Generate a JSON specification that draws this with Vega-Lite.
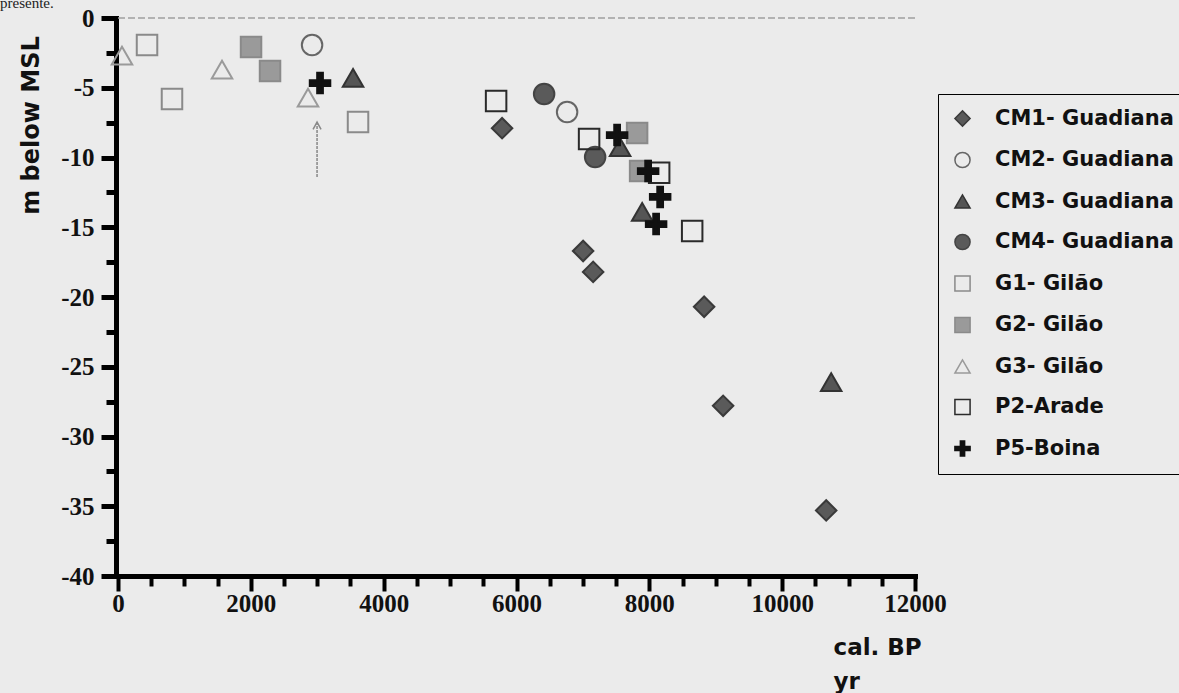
{
  "$schema": "https://vega.github.io/schema/vega-lite/v6.json",
  "autosize": "none",
  "width": 797,
  "height": 558,
  "padding": {"left": 118, "top": 18, "right": 264, "bottom": 117},
  "background": "#ebebeb",
  "title": {"text": "presente.", "anchor": "start", "frame": "group", "orient": "top", "dx": -118, "dy": 17, "offset": 0, "baseline": "alphabetic", "font": "Liberation Serif", "fontSize": 15, "fontWeight": "normal", "color": "#222"},
  "config": {
    "view": {"stroke": null},
    "axis": {"labelFont": "Liberation Serif", "labelFontSize": 25, "labelFontWeight": "bold", "labelColor": "#111"}
  },
  "datasets": {
    "pts": [
      {"series": "CM1- Guadiana", "x": 5783, "y": -7.9},
      {"series": "CM1- Guadiana", "x": 7003, "y": -16.7},
      {"series": "CM1- Guadiana", "x": 7154, "y": -18.2},
      {"series": "CM1- Guadiana", "x": 8825, "y": -20.7},
      {"series": "CM1- Guadiana", "x": 9111, "y": -27.8},
      {"series": "CM1- Guadiana", "x": 10663, "y": -35.3},
      {"series": "CM2- Guadiana", "x": 2922, "y": -1.94},
      {"series": "CM2- Guadiana", "x": 6762, "y": -6.74},
      {"series": "CM3- Guadiana", "x": 3539, "y": -4.3},
      {"series": "CM3- Guadiana", "x": 7560, "y": -9.25},
      {"series": "CM3- Guadiana", "x": 7892, "y": -13.9},
      {"series": "CM3- Guadiana", "x": 10738, "y": -26.1},
      {"series": "CM4- Guadiana", "x": 6416, "y": -5.45},
      {"series": "CM4- Guadiana", "x": 7184, "y": -9.96},
      {"series": "G1- Gilão", "x": 437, "y": -1.94},
      {"series": "G1- Gilão", "x": 813, "y": -5.8},
      {"series": "G1- Gilão", "x": 3614, "y": -7.46},
      {"series": "G2- Gilão", "x": 2003, "y": -2.08},
      {"series": "G2- Gilão", "x": 2289, "y": -3.8},
      {"series": "G2- Gilão", "x": 7816, "y": -8.24},
      {"series": "G2- Gilão", "x": 7861, "y": -10.97},
      {"series": "G3- Gilão", "x": 60, "y": -2.7},
      {"series": "G3- Gilão", "x": 1566, "y": -3.7},
      {"series": "G3- Gilão", "x": 2861, "y": -5.7},
      {"series": "P2-Arade", "x": 5693, "y": -5.95},
      {"series": "P2-Arade", "x": 7093, "y": -8.67},
      {"series": "P2-Arade", "x": 8148, "y": -11.1},
      {"series": "P2-Arade", "x": 8645, "y": -15.27},
      {"series": "P5-Boina", "x": 3042, "y": -4.66},
      {"series": "P5-Boina", "x": 7515, "y": -8.39},
      {"series": "P5-Boina", "x": 7982, "y": -10.97},
      {"series": "P5-Boina", "x": 8163, "y": -12.83},
      {"series": "P5-Boina", "x": 8102, "y": -14.77}
    ]
  },
  "layer": [
    {
      "data": {"values": [{"y": 0}]},
      "mark": {"type": "rule", "color": "#a0a0a0", "strokeWidth": 1.5, "strokeDash": [7, 3]},
      "encoding": {"y": {"field": "y", "type": "quantitative", "axis": null}}
    },
    {
      "data": {"values": [{"x": 2997, "y": -11.4, "y2": -7.5}]},
      "mark": {"type": "rule", "color": "#888888", "strokeWidth": 1.5, "strokeDash": [3, 1]},
      "encoding": {
        "x": {"field": "x", "type": "quantitative", "axis": null},
        "y": {"field": "y", "type": "quantitative", "axis": null},
        "y2": {"field": "y2"}
      }
    },
    {
      "data": {"values": [{"x": 2997, "y": -7.46}]},
      "mark": {"type": "point", "shape": "M-1,1.8L0,0L1,1.8", "size": 64, "filled": false, "stroke": "#888888", "strokeWidth": 1.5, "opacity": 1},
      "encoding": {
        "x": {"field": "x", "type": "quantitative", "axis": null},
        "y": {"field": "y", "type": "quantitative", "axis": null}
      }
    },
    {
      "data": {"name": "pts"},
      "mark": {"type": "point", "size": 420, "strokeWidth": 2, "opacity": 1},
      "encoding": {
        "x": {
          "field": "x", "type": "quantitative",
          "scale": {"domain": [0, 12000], "nice": false, "zero": false},
          "axis": {
            "orient": "bottom", "values": [0, 2000, 4000, 6000, 8000, 10000, 12000], "format": "d",
            "grid": false, "domainColor": "#000", "domainWidth": 5, "domainCap": "square",
            "tickColor": "#000", "tickWidth": 4, "tickSize": 15,
            "labelPadding": 0, "labelFlush": false, "labelOverlap": false,
            "title": ["cal. BP", "yr"], "titleFont": "DejaVu Sans", "titleFontSize": 23, "titleFontWeight": "bold", "titleColor": "#111",
            "titleAlign": "left", "titleBaseline": "alphabetic", "titleX": 715, "titleY": 78, "titleLineHeight": 34
          }
        },
        "y": {
          "field": "y", "type": "quantitative",
          "scale": {"domain": [-40, 0], "nice": false, "zero": false},
          "axis": {
            "orient": "left", "offset": 2, "values": [0, -5, -10, -15, -20, -25, -30, -35, -40],
            "labelExpr": "replace(datum.label, '\u2212', '-')",
            "grid": false, "domainColor": "#000", "domainWidth": 5, "domainCap": "square",
            "tickColor": "#000", "tickWidth": 5, "tickSize": 15,
            "labelPadding": 7, "labelFlush": false, "labelOverlap": false,
            "title": "m below MSL", "titleFont": "DejaVu Sans", "titleFontSize": 24, "titleFontWeight": "bold", "titleColor": "#111",
            "titleAngle": -90, "titleAlign": "center", "titleBaseline": "middle", "titleX": -85, "titleY": 107
          }
        },
        "shape": {
          "field": "series", "type": "nominal",
          "scale": {
            "domain": ["CM1- Guadiana", "CM2- Guadiana", "CM3- Guadiana", "CM4- Guadiana", "G1- Gilão", "G2- Gilão", "G3- Gilão", "P2-Arade", "P5-Boina"],
            "range": ["diamond", "circle", "triangle-up", "circle", "square", "square", "triangle-up", "square", "M-1,-0.28H-0.28V-1H0.28V-0.28H1V0.28H0.28V1H-0.28V0.28H-1Z"]
          },
          "legend": {
            "orient": "none", "legendX": 820, "legendY": 76, "title": null,
            "strokeColor": "#000", "padding": 14,
            "symbolSize": 230, "symbolStrokeWidth": 1.5, "rowPadding": 18.5, "labelOffset": 22,
            "labelFont": "DejaVu Sans", "labelFontSize": 21, "labelFontWeight": "bold", "labelColor": "#111", "labelLimit": 400
          }
        },
        "fill": {
          "field": "series", "type": "nominal",
          "scale": {
            "domain": ["CM1- Guadiana", "CM2- Guadiana", "CM3- Guadiana", "CM4- Guadiana", "G1- Gilão", "G2- Gilão", "G3- Gilão", "P2-Arade", "P5-Boina"],
            "range": ["#5a5a5a", "transparent", "#555555", "#5a5a5a", "transparent", "#9a9a9a", "transparent", "transparent", "#111111"]
          }
        },
        "stroke": {
          "field": "series", "type": "nominal",
          "scale": {
            "domain": ["CM1- Guadiana", "CM2- Guadiana", "CM3- Guadiana", "CM4- Guadiana", "G1- Gilão", "G2- Gilão", "G3- Gilão", "P2-Arade", "P5-Boina"],
            "range": ["#3a3a3a", "#666666", "#333333", "#444444", "#8a8a8a", "#8a8a8a", "#9a9a9a", "#2a2a2a", "#111111"]
          }
        }
      }
    },
    {
      "data": {"name": "pts"},
      "mark": {"type": "point", "opacity": 0},
      "encoding": {
        "x": {
          "field": "x", "type": "quantitative",
          "axis": {
            "orient": "bottom", "values": [500, 1000, 1500, 2500, 3000, 3500, 4500, 5000, 5500, 6500, 7000, 7500, 8500, 9000, 9500, 10500, 11000, 11500],
            "labels": false, "domain": false, "grid": false, "title": null,
            "tickColor": "#000", "tickWidth": 4, "tickSize": 10
          }
        },
        "y": {
          "field": "y", "type": "quantitative",
          "axis": {
            "orient": "left", "offset": 2, "values": [-2.5, -7.5, -12.5, -17.5, -22.5, -27.5, -32.5, -37.5],
            "labels": false, "domain": false, "grid": false, "title": null,
            "tickColor": "#000", "tickWidth": 5, "tickSize": 10
          }
        }
      }
    }
  ],
  "resolve": {"axis": {"x": "independent", "y": "independent"}}
}
